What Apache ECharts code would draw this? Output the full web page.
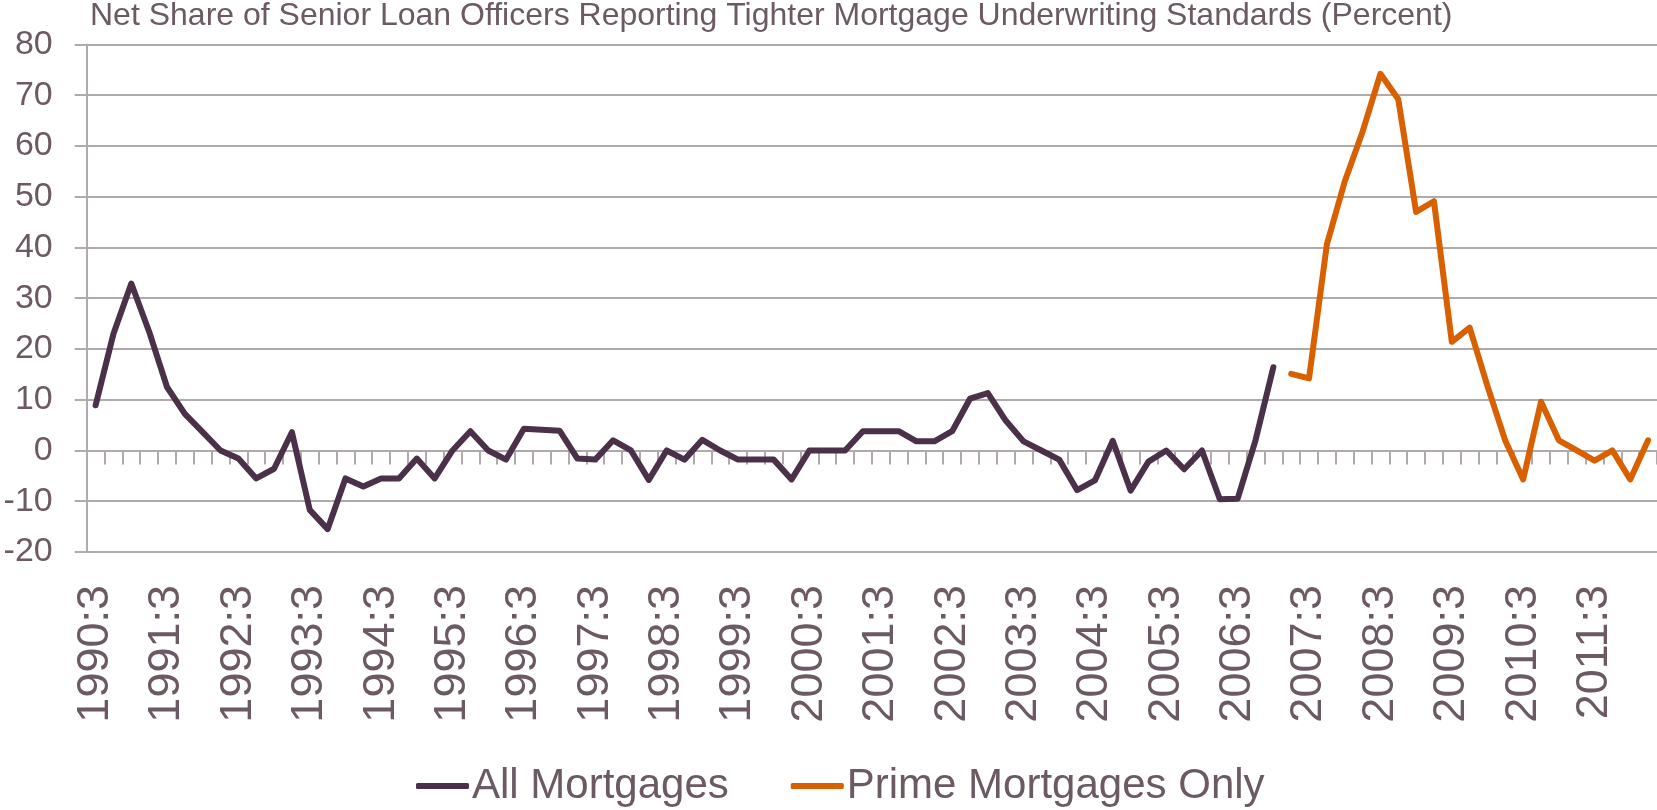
<!DOCTYPE html>
<html>
<head>
<meta charset="utf-8">
<title>Net Share of Senior Loan Officers Reporting Tighter Mortgage Underwriting Standards</title>
<script src="https://cdn.jsdelivr.net/npm/echarts@6/dist/echarts.min.js"></script>
<style>
  html, body { margin: 0; padding: 0; background: #fff; }
  #chart { width: 1657px; height: 810px; }
</style>
</head>
<body>
<div id="chart"></div>
<script>
// quarters, 1990:3 .. 2012:2
const quarters = [
  "1990:3", "1990:4", "1991:1", "1991:2", "1991:3", "1991:4", "1992:1", "1992:2",
  "1992:3", "1992:4", "1993:1", "1993:2", "1993:3", "1993:4", "1994:1", "1994:2",
  "1994:3", "1994:4", "1995:1", "1995:2", "1995:3", "1995:4", "1996:1", "1996:2",
  "1996:3", "1996:4", "1997:1", "1997:2", "1997:3", "1997:4", "1998:1", "1998:2",
  "1998:3", "1998:4", "1999:1", "1999:2", "1999:3", "1999:4", "2000:1", "2000:2",
  "2000:3", "2000:4", "2001:1", "2001:2", "2001:3", "2001:4", "2002:1", "2002:2",
  "2002:3", "2002:4", "2003:1", "2003:2", "2003:3", "2003:4", "2004:1", "2004:2",
  "2004:3", "2004:4", "2005:1", "2005:2", "2005:3", "2005:4", "2006:1", "2006:2",
  "2006:3", "2006:4", "2007:1", "2007:2", "2007:3", "2007:4", "2008:1", "2008:2",
  "2008:3", "2008:4", "2009:1", "2009:2", "2009:3", "2009:4", "2010:1", "2010:2",
  "2010:3", "2010:4", "2011:1", "2011:2", "2011:3", "2011:4", "2012:1", "2012:2"
];

// All mortgages, 1990:3 .. 2007:1
const allMortgages = [
  8.9, 23.0, 32.9, 23.4, 12.5, 7.2, 3.6, 0, -1.6, -5.5,
  -3.6, 3.6, -11.7, -15.5, -5.5, -7.1, -5.5, -5.5, -1.6, -5.5,
  0, 3.8, 0, -1.8, 4.3, 4.1, 3.9, -1.6, -1.8, 2.0,
  0, -5.8, 0, -1.8, 2.1, 0, -1.8, -1.8, -1.8, -5.7,
  0, 0, 0, 3.8, 3.8, 3.8, 1.8, 1.8, 3.8, 10.2,
  11.3, 5.9, 1.8, 0, -1.8, -7.8, -5.9, 1.9, -7.9, -2.2,
  0, -3.7, 0, -9.6, -9.5, 2.0, 16.4
];

// Prime mortgages only, 2007:2 .. 2012:2
const primeMortgages = [
  15.1, 14.2, 40.6, 53.0, 62.8, 74.2, 69.2, 47.0, 49.1, 21.4,
  24.2, 12.7, 1.9, -5.7, 9.6, 2.0, 0, -2.0, 0, -5.7, 2.0
];

const yTicks = [-20, -10, 0, 10, 20, 30, 40, 50, 60, 70, 80];

const textColor = "#6b5963";
const gridColor = "#b0aaad";
const font = "'Liberation Sans', Arial, sans-serif";

// pad each series out to the full quarter range
const allData = quarters.map((q, i) => (i < allMortgages.length ? allMortgages[i] : null));
const primeStart = quarters.length - primeMortgages.length;
const primeData = quarters.map((q, i) => (i >= primeStart ? primeMortgages[i - primeStart] : null));

let chart = echarts.init(document.getElementById("chart"));
let option = {
  backgroundColor: "#fff",
  animation: false,
  title: {
    text: "Net Share of Senior Loan Officers Reporting Tighter Mortgage Underwriting Standards (Percent)",
    left: 90,
    top: 0,
    padding: 0,
    textStyle: {
      color: textColor,
      fontFamily: font,
      fontSize: 32,
      fontWeight: "normal",
    },
  },
  legend: {
    left: 411,
    top: 760,
    icon: "roundRect",
    itemWidth: 53,
    itemHeight: 6,
    itemGap: 62,
    textStyle: {
      color: textColor,
      fontFamily: font,
      fontSize: 42,
      padding: [0, 0, 0, -2],
    },
    data: ["All Mortgages", "Prime Mortgages Only"],
  },
  grid: {
    left: 86.7,
    top: 44.4,
    width: 1573.4,
    height: 507.6,
    containLabel: false,
  },
  xAxis: [
    {
      // axis line + ticks sitting on zero
      type: "category",
      data: quarters,
      boundaryGap: true,
      axisLine: {
        onZero: true,
        lineStyle: { color: gridColor, width: 2 },
      },
      axisTick: {
        show: true,
        interval: 0,
        length: 14,
        lineStyle: { color: gridColor, width: 2 },
      },
      axisLabel: { show: false },
      splitLine: { show: false },
    },
    {
      // labels along the bottom
      type: "category",
      data: quarters,
      position: "bottom",
      boundaryGap: true,
      axisLine: { show: false, onZero: false },
      axisTick: { show: false },
      axisLabel: {
        interval: 3,
        rotate: 90,
        margin: 33,
        color: textColor,
        fontFamily: font,
        fontSize: 45,
      },
      splitLine: { show: false },
    },
  ],
  yAxis: {
    type: "value",
    min: yTicks[0],
    max: yTicks[yTicks.length - 1],
    interval: 10,
    axisLine: {
      show: true,
      lineStyle: { color: gridColor, width: 2 },
    },
    axisTick: {
      show: true,
      length: 12,
      lineStyle: { color: gridColor, width: 2 },
    },
    axisLabel: {
      margin: 34,
      color: textColor,
      fontFamily: font,
      fontSize: 34,
    },
    splitLine: {
      show: true,
      lineStyle: { color: gridColor, width: 2 },
    },
  },
  series: [
    {
      name: "All Mortgages",
      type: "line",
      xAxisIndex: 0,
      data: allData,
      symbol: "none",
      connectNulls: false,
      color: "#4a3048",
      lineStyle: { color: "#4a3048", width: 6, join: "round", cap: "round" },
    },
    {
      name: "Prime Mortgages Only",
      type: "line",
      xAxisIndex: 0,
      data: primeData,
      symbol: "none",
      connectNulls: false,
      color: "#d86000",
      lineStyle: { color: "#d86000", width: 6, join: "round", cap: "round" },
    },
  ],
};
chart.setOption(option, true);
</script>
</body>
</html>
